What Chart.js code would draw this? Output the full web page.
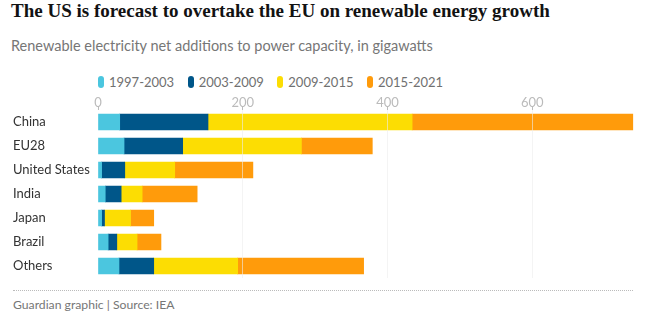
<!DOCTYPE html>
<html>
<head>
<meta charset="utf-8">
<script src="https://cdn.jsdelivr.net/npm/chart.js@4"></script>
<style>
  body { margin: 0; background: #fff; }
  #wrap { position: relative; width: 647px; height: 323px; overflow: hidden; }
  #title { position: absolute; left: 11px; top: 0; font: bold 19px/21px "Liberation Serif", serif; color: #121212; white-space: nowrap; }
  #subtitle { position: absolute; left: 11px; top: 36.6px; font: 14.5px/17px Lato, sans-serif; color: #767676; white-space: nowrap; }
  #legend { position: absolute; left: 98px; top: 73.5px; display: flex; font: 13px/16px Lato, sans-serif; color: #707070; }
  #legend .item { display: flex; align-items: center; margin-right: 13.5px; }
  #legend .box { width: 6px; height: 12px; border-radius: 3px; margin-right: 5px; }
  #chartBox { position: absolute; left: 0; top: 90px; width: 647px; height: 195px; }
  #rule { position: absolute; left: 13px; top: 290px; width: 620px; border-top: 1px dotted #bbb; }
  #footer { position: absolute; left: 13px; top: 298.3px; font: 12.2px/14px Lato, sans-serif; color: #767676; white-space: nowrap; }
</style>
</head>
<body>
<div id="wrap">
  <div id="title">The US is forecast to overtake the EU on renewable energy growth</div>
  <div id="subtitle">Renewable electricity net additions to power capacity, in gigawatts</div>
  <div id="legend"></div>
  <div id="chartBox"><canvas id="chart"></canvas></div>
  <div id="rule"></div>
  <div id="footer">Guardian graphic | Source: IEA</div>
</div>
<script>
// categories and series (gigawatts)
const categories = ['China', 'EU28', 'United States', 'India', 'Japan', 'Brazil', 'Others'];
const periods = ['1997-2003', '2003-2009', '2009-2015', '2015-2021'];
const s1997 = [30, 36, 5, 10, 5, 14, 29];
const s2003 = [122, 81, 32, 22, 4, 12, 48];
const s2009 = [282, 164, 69, 29, 36, 28, 116];
const s2015 = [305, 98, 108, 76, 32, 33, 174];
const xTicks = [0, 200, 400, 600];

const colors = ['#4bc6df', '#005689', '#fcdd03', '#ff9b0b'];
const series = [s1997, s2003, s2009, s2015];

// legend as html, so it can start at the plot's left edge
const legendEl = document.getElementById('legend');
periods.forEach((p, i) => {
    const item = document.createElement('div');
    item.className = 'item';
    item.innerHTML = '<span class="box" style="background:' + colors[i] + '"></span>' + p;
    legendEl.appendChild(item);
});

new Chart(document.getElementById('chart'), {
    type: 'bar',
    data: {
        labels: categories,
        datasets: series.map((d, i) => ({
            label: periods[i],
            data: d,
            backgroundColor: colors[i],
            borderWidth: 0,
            barThickness: 16
        }))
    },
    options: {
        indexAxis: 'y',
        responsive: true,
        maintainAspectRatio: false,
        animation: false,
        layout: { padding: { left: 13, right: 13.4, top: 0, bottom: 7 } },
        plugins: {
            legend: { display: false },
            tooltip: { enabled: false }
        },
        scales: {
            x: {
                position: 'top',
                stacked: true,
                min: 0,
                max: 740,
                afterFit: s => { s.height = 20; },
                afterBuildTicks: s => { s.ticks = xTicks.map(v => ({ value: v })); },
                border: { display: false },
                grid: {
                    z: 1,
                    color: ctx => ctx.tick && ctx.tick.value === 0 ? 'rgba(0,0,0,0)' : 'rgba(236,236,236,0.6)',
                    tickColor: '#bbb',
                    tickLength: 4
                },
                ticks: {
                    padding: -5,
                    color: '#bbb',
                    font: { family: 'Lato', size: 13 }
                }
            },
            y: {
                stacked: true,
                // fixed label column; no extra padding for the first/last label
                afterFit: s => { s.width = 85; s.paddingTop = 0; s.paddingBottom = 0; },
                border: { display: false },
                grid: { display: false },
                ticks: {
                    crossAlign: 'far',
                    color: '#333',
                    font: { family: 'Lato', size: 13 }
                }
            }
        }
    }
});
</script>
</body>
</html>
